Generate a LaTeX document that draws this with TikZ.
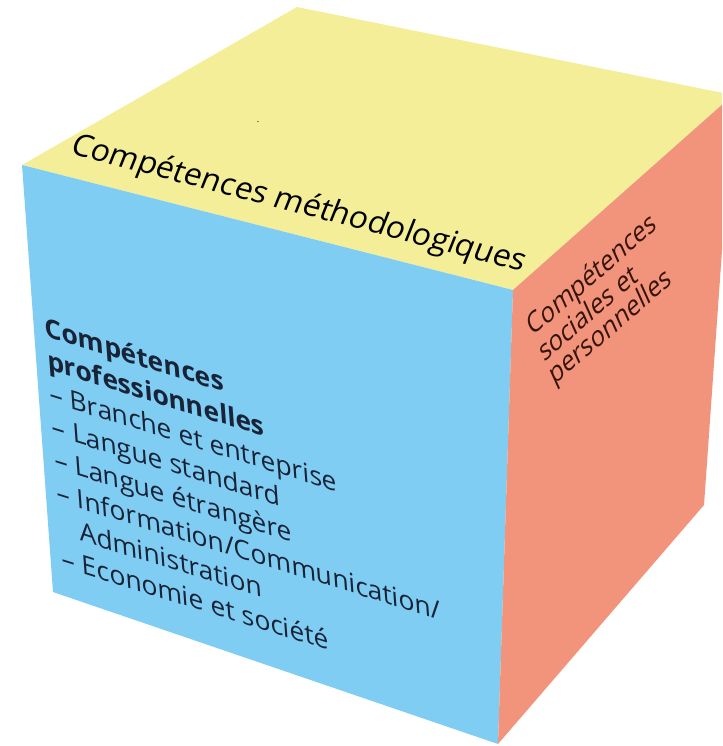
\documentclass[tikz,border=0pt]{standalone}
\usepackage{fontspec}
\setmainfont{Open Sans}
\usepackage{tikz}
\definecolor{Y}{RGB}{244,238,152}
\definecolor{Bl}{RGB}{127,205,243}
\definecolor{S}{RGB}{242,147,123}
\definecolor{ink}{RGB}{25,35,55}
\definecolor{brownink}{RGB}{55,20,10}
\tikzstyle{frontlabel} = [cm={1,-0.31,-0.073,1,(0,0)}, align=left, inner sep=0pt,
text=ink, font=\fontsize{26.5}{33}\selectfont]
\tikzstyle{toplabel} = [cm={1,-0.26,0.38,0.95,(0,0)}, inner sep=0pt,
text=black, font=\fontsize{30.5}{33}\selectfont]
\tikzstyle{rightlabel} = [cm={0.755,0.656,-0.43,0.95,(0,0)}, align=left, inner sep=0pt,
text=brownink, font=\fontsize{26}{24}\selectfont]

\begin{document}
\begin{tikzpicture}[x=1pt, y=-1pt]
    \useasboundingbox (0,0) rectangle (722,746);
    \clip (0,0) rectangle (722,746);

    % corners of the cube
    \coordinate (T) at (297,7);
    \coordinate (L) at (22,165);
    \coordinate (R) at (733,95);
    \coordinate (C) at (513,290);
    \coordinate (BL) at (53,592);
    \coordinate (B) at (498,744);
    \coordinate (BR) at (704,505);

    \fill[Y] (L) -- (T) -- (R) -- (C) -- cycle;
    \fill[Bl] (L) -- (C) -- (B) -- (BL) -- cycle;
    \fill[S] (C) -- (R) -- (BR) -- (B) -- cycle;

    \node[toplabel, anchor=west] (methodo) at (72,146) {Compétences méthodologiques};
    \node[font=\small] (dot) at (258,122) {.};

    \node[rightlabel, anchor=north west] (sociales) at (524,318)
        {Compétences\\ sociales et\\ personnelles};

    \node[frontlabel, anchor=north west] (prof) at (44,316) {%
        \textbf{Compétences}\\
        \textbf{professionnelles}\\
        – Branche et entreprise\\
        – Langue standard\\
        – Langue étrangère\\
        – Information/Communication/\\
        \phantom{– }Administration\\
        – Economie et société};
\end{tikzpicture}
\end{document}
